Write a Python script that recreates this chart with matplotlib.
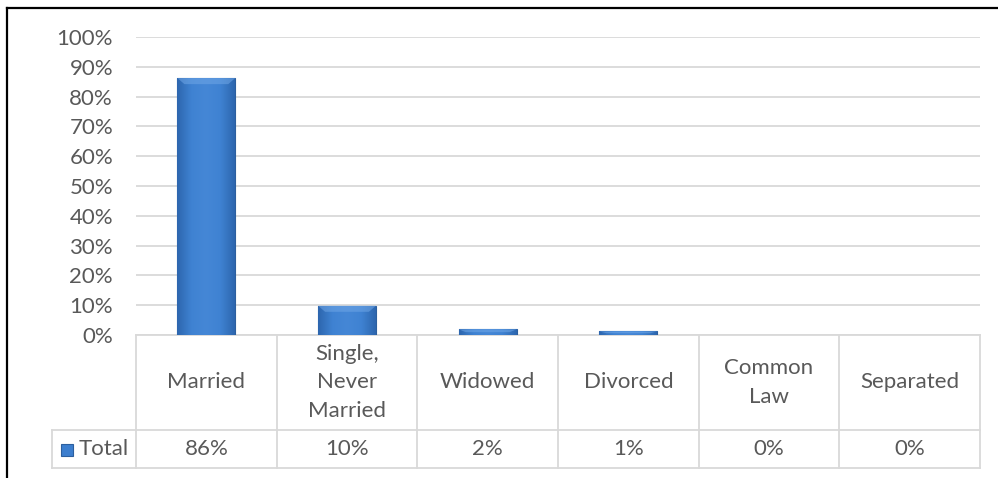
import matplotlib
matplotlib.use('Agg')
import matplotlib.pyplot as plt
from matplotlib.lines import Line2D
from matplotlib.patches import Rectangle, Polygon
from matplotlib.colors import LinearSegmentedColormap
import matplotlib.transforms as mtransforms
import numpy as np

categories = ['Married', 'Single,\nNever\nMarried', 'Widowed', 'Divorced', 'Common\nLaw', 'Separated']
values = [86.2, 9.8, 1.9, 1.2, 0.0, 0.0]
value_labels = ['86%', '10%', '2%', '1%', '0%', '0%']
series_name = 'Total'
yticks = [0, 10, 20, 30, 40, 50, 60, 70, 80, 90, 100]
ytick_labels = ['0%', '10%', '20%', '30%', '40%', '50%', '60%', '70%', '80%', '90%', '100%']

plt.rcParams['font.family'] = ['Lato', 'DejaVu Sans']
TXT = '#595959'
GRID = '#D9D9D9'
FS = 16

W, H = 998, 478
fig = plt.figure(figsize=(W / 100, H / 100), dpi=100)
fig.patch.set_facecolor('white')

# plot area in pixels
L, R, T, B = 136, 980, 37, 335
ax = fig.add_axes([L / W, (H - B) / H, (R - L) / W, (B - T) / H])
ax.set_facecolor('white')

x = np.arange(len(categories))
bars = ax.bar(x, values, width=0.41, color='#3C7ECE', edgecolor='#2C5F9E',
              linewidth=0.8, zorder=3)

# gradient fill inside each bar (darker at sides, lighter centre)
cmap = LinearSegmentedColormap.from_list('bev', ['#2D66AE', '#3F82D2', '#4587D6', '#3F82D2', '#2D66AE'])
grad = np.linspace(0, 1, 256).reshape(1, -1)
px_y = 100 / (B - T)  # data units per pixel (vertical)
for b in bars:
    if b.get_height() <= 0:
        b.set_visible(False)
        continue
    x0, x1, h = b.get_x(), b.get_x() + b.get_width(), b.get_height()
    im = ax.imshow(grad, cmap=cmap, aspect='auto', zorder=3.5, extent=[x0, x1, 0, h])
    im.set_clip_path(b)
    # lighter top bevel
    bh = min(6 * px_y, h * 0.5)
    dx = b.get_width() * 0.12
    ax.add_patch(Polygon([[x0, h], [x1, h], [x1 - dx, h - bh], [x0 + dx, h - bh]],
                         closed=True, facecolor='#6FA6E6', edgecolor='none', alpha=0.55,
                         zorder=3.6, clip_path=b))
ax.set_xlim(-0.5, len(categories) - 0.5)
ax.set_ylim(0, 100)
ax.set_yticks(yticks)
ax.set_yticklabels(ytick_labels)
ax.yaxis.grid(True, color=GRID, linewidth=1.3, zorder=0)
ax.set_axisbelow(True)
for s in ax.spines.values():
    s.set_visible(False)
ax.tick_params(axis='y', length=0, pad=16.5, labelcolor=TXT, labelsize=FS)
ax.tick_params(axis='x', length=0, labelbottom=False)

# data table below the plot
ph = B - T
pw = R - L
r1 = -(430 - B) / ph
r2 = -(468 - B) / ph
left_frac = -(L - 52) / pw
trans = mtransforms.blended_transform_factory(ax.transData, ax.transAxes)
lw = 1.3
n = len(categories)
for i in range(n + 1):
    ax.add_line(Line2D([i - 0.5, i - 0.5], [0, r2], transform=trans, color=GRID,
                       lw=lw, clip_on=False))
for yy in (r1, r2):
    ax.add_line(Line2D([left_frac, 1], [yy, yy], transform=ax.transAxes, color=GRID,
                       lw=lw, clip_on=False))
ax.add_line(Line2D([left_frac, left_frac], [r1, r2], transform=ax.transAxes, color=GRID,
                   lw=lw, clip_on=False))
ax.add_line(Line2D([0, 1], [0, 0], transform=ax.transAxes, color=GRID,
                   lw=lw, clip_on=False))

for i, (c, v) in enumerate(zip(categories, value_labels)):
    ax.text(i, r1 / 2, c, transform=trans, ha='center', va='center', fontsize=FS,
            color=TXT, linespacing=1.56, clip_on=False)
    ax.text(i, (r1 + r2) / 2, v, transform=trans, ha='center', va='center', fontsize=FS,
            color=TXT, clip_on=False)

# legend key + series name
ax.add_patch(Rectangle((-(L - 61) / pw, -(456 - B) / ph), 12 / pw, 12 / ph,
                       transform=ax.transAxes, facecolor='#3C7ECE', edgecolor='#2C5F9E',
                       lw=0.8, clip_on=False))
ax.text(-(L - 79) / pw, (r1 + r2) / 2, series_name, transform=ax.transAxes, ha='left',
        va='center', fontsize=FS, color=TXT, clip_on=False)

# outer frame (top and left)
fig.add_artist(Line2D([7 / W, 1], [1 - 8 / H, 1 - 8 / H], transform=fig.transFigure,
                      color='black', lw=1.6))
fig.add_artist(Line2D([7 / W, 7 / W], [0, 1 - 8 / H], transform=fig.transFigure,
                      color='black', lw=1.6))

fig.savefig('out.png', dpi=100, facecolor='white')
